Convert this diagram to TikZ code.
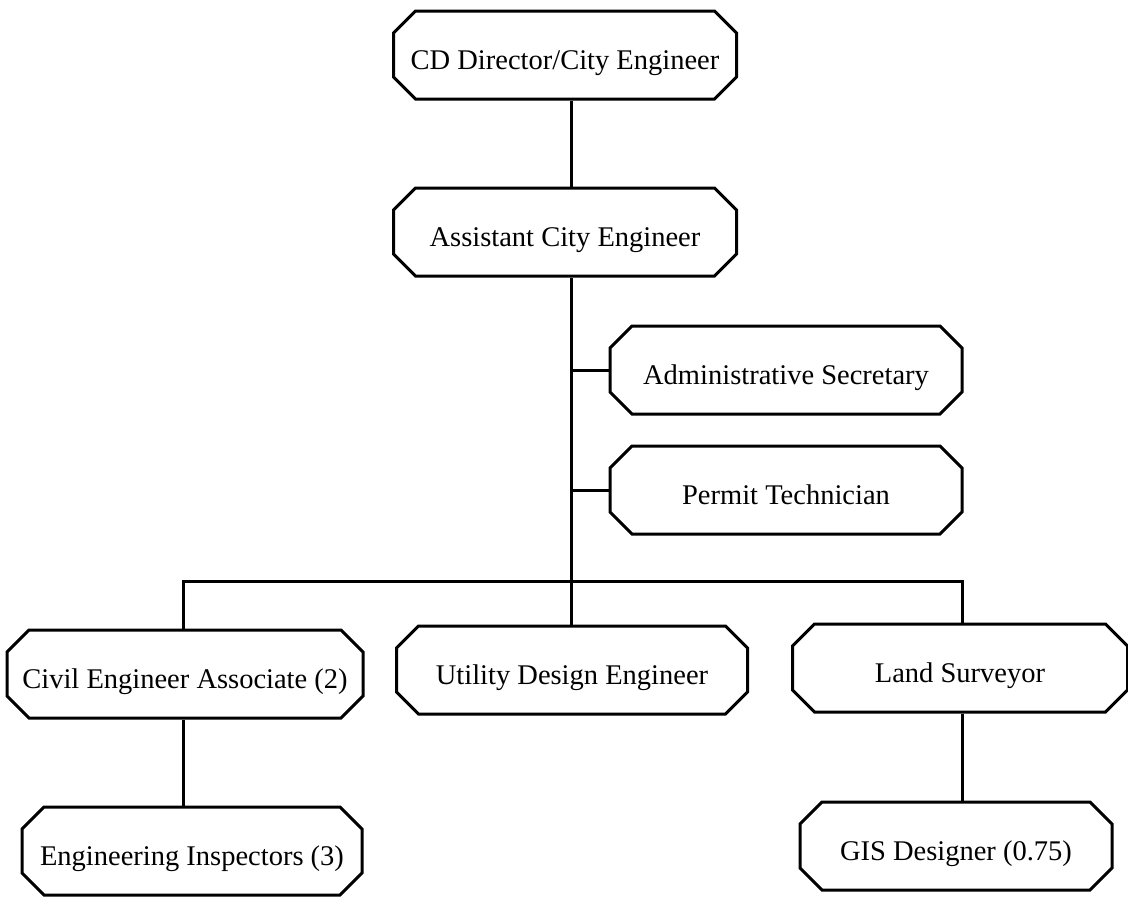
\documentclass[tikz,border=0pt]{standalone}
\usepackage{fontspec}
\setmainfont{Liberation Serif}
\usetikzlibrary{shapes,shapes.misc}

\begin{document}
\begin{tikzpicture}[x=1pt, y=-1pt, line width=3pt,
        every node/.append style={font=\fontsize{28.5}{32}\selectfont}]
      \tikzstyle{post} = [chamfered rectangle, draw, line width=3pt,
        chamfered rectangle xsep=11pt, chamfered rectangle ysep=11pt,
        inner sep=0pt, minimum height=88pt, text height=29pt, text depth=0pt]
      \useasboundingbox (0,0) rectangle (1128,897);
      \node (cd) [post, minimum width=343pt] at (565,55) {CD Director/City Engineer};
      \node (ace) [post, minimum width=343pt] at (565,232) {Assistant City Engineer};
      \node (admin) [post, minimum width=352pt] at (786,370) {Administrative Secretary};
      \node (permit) [post, minimum width=352pt] at (786,490) {Permit Technician};
      \node (civil) [post, minimum width=356pt] at (185,674) {Civil Engineer Associate (2)};
      \node (utility) [post, minimum width=351pt] at (572,670) {Utility Design Engineer};
      \node (land) [post, minimum width=335pt] at (960,668) {Land Surveyor};
      \node (eng) [post, minimum width=340pt] at (192,851) {Engineering Inspectors (3)};
      \node (gis) [post, minimum width=312pt] at (956,846) {GIS Designer (0.75)};
      \coordinate (bar) at (571,581);
      \draw (cd.south -| bar) -- (ace.north -| bar);
      \draw (ace.south -| bar) -- (bar);
      \draw (admin.west) -- (admin.west -| bar);
      \draw (permit.west) -- (permit.west -| bar);
      \draw (civil.north -| 183,0) |- (bar) -| (land.north -| 962,0);
      \draw (bar) -- (utility.north -| bar);
      \draw (civil.south -| 183,0) -- (eng.north -| 183,0);
      \draw (land.south -| 962,0) -- (gis.north -| 962,0);
    \end{tikzpicture}
\end{document}
